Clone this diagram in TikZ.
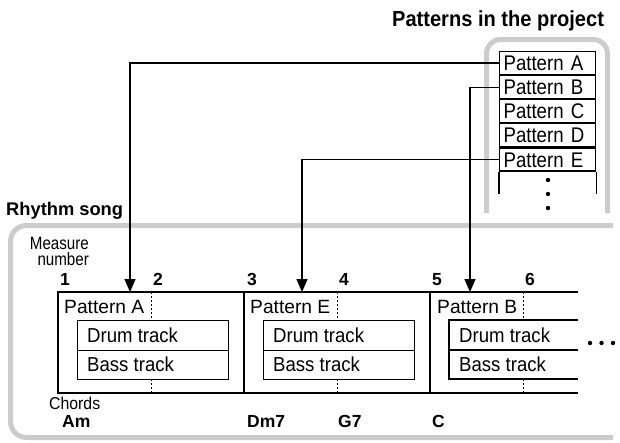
\documentclass[tikz,border=0pt]{standalone}
\usepackage{fontspec}
\setmainfont{Liberation Sans}
\newfontfamily\condA{Liberation Sans}[FakeStretch=0.88]
\newfontfamily\condB{Liberation Sans}[FakeStretch=0.92]
\newfontfamily\condC{Liberation Sans}[FakeStretch=0.85]
\usetikzlibrary{arrows.meta}
\definecolor{bargray}{RGB}{204,204,204}
\begin{document}
\begin{tikzpicture}[x=1pt,y=-1pt,
  lbl/.style={inner sep=0pt, anchor=base west},
  lble/.style={inner sep=0pt, anchor=base east},
  titlefont/.style={font=\condB\fontsize{21.8}{24}\selectfont\bfseries},
  smallfont/.style={font=\condC\fontsize{17.8}{20}\selectfont},
  numfont/.style={font=\fontsize{17.5}{20}\selectfont\bfseries},
  plabel/.style={lbl, font=\fontsize{19.2}{22}\selectfont},
  graybar/.style={draw=bargray, line width=5pt},
  rowbox/.style={draw, line width=1.1pt, minimum width=96pt, minimum height=23pt,
    inner xsep=4pt, inner ysep=0pt, text width=88pt, align=left,
    text height=15.2pt, text depth=0pt, anchor=north west,
    font=\condA\fontsize{21.2}{22}\selectfont},
  trackrow/.style={minimum height=#1, inner xsep=10pt, inner ysep=0pt,
    text height=14.5pt, text depth=0pt, anchor=north west,
    font=\condB\fontsize{20.2}{22}\selectfont},
  thin/.style={line width=1.1pt},
  dotline/.style={line width=1pt, dash pattern=on 2pt off 2pt},
  arr/.style={line width=1.2pt, -{Triangle[length=13pt,width=11pt]}}
]
\useasboundingbox (0,0) rectangle (620,442);

% ---- Patterns in the project ----
\node[lbl, titlefont] (ptitle) at (392,26) {Patterns in the project};
\draw[graybar, rounded corners=14pt] (486.5,213) -- (486.5,39.5) -- (607.5,39.5) -- (607.5,213);

\node[rowbox] (pA) at (499,51) {Pattern A};
\node[rowbox] (pB) at (pA.south west) {Pattern B};
\node[rowbox] (pC) at (pB.south west) {Pattern C};
\node[rowbox] (pD) at (pC.south west) {Pattern D};
\node[rowbox] (pE) at (pD.south west) {Pattern E};
\draw[thin] (pE.south west) -- ++(0,22);
\draw[thin] (pE.south east) -- ++(0,22);
\fill (548,180) circle (2.2pt) (548,194) circle (2.2pt) (548,208) circle (2.2pt);

% ---- Rhythm song ----
\node[lbl, font=\fontsize{18.3}{22}\selectfont\bfseries] (rtitle) at (6,215) {Rhythm song};
\draw[graybar, rounded corners=16pt] (613,225.5) -- (10.5,225.5) -- (10.5,437.5) -- (613,437.5);

\node[lble, smallfont] (meas) at (89,249) {Measure};
\node[lble, smallfont] (numb) at (89,265.5) {number};

\node[lbl, numfont] (n1) at (60,285) {1};
\node[lbl, numfont] (n2) at (153,285) {2};
\node[lbl, numfont] (n3) at (247,285) {3};
\node[lbl, numfont] (n4) at (339,285) {4};
\node[lbl, numfont] (n5) at (432,285) {5};
\node[lbl, numfont] (n6) at (525,285) {6};

% strip
\draw[thin] (578,292) -- (58,292) -- (58,393) -- (578,393);
\draw[thin] (244,292) -- (244,393);
\draw[thin] (430,292) -- (430,393);
\foreach \x in {151,337,523} {
  \draw[dotline] (\x,292) -- (\x,320);
  \draw[dotline] (\x,379) -- (\x,393);
}

\node[plabel] (lA) at (64,313) {Pattern A};
\node[plabel] (lE) at (250,313) {Pattern E};
\node[plabel] (lB) at (437,313) {Pattern B};

% track boxes 1 and 2
\foreach \x/\n in {77/1,263/2} {
  \node[trackrow=30pt, draw, thin, minimum width=151pt] (d\n) at (\x,320) {};
  \node[trackrow=29pt, draw, thin, minimum width=151pt] (b\n) at (\x,350) {};
  \node[trackrow=30pt] at (\x,320) {Drum track};
  \node[trackrow=29pt] at (\x,350) {Bass track};
}
% track box 3 (open at the right)
\draw[thin] (578,320) -- (449,320) -- (449,379) -- (578,379);
\draw[thin] (449,350) -- (578,350);
\node[trackrow=30pt] (d3) at (449,320) {Drum track};
\node[trackrow=29pt] (b3) at (449,350) {Bass track};

\fill (590,343) circle (2.2pt) (601.5,343) circle (2.2pt) (613,343) circle (2.2pt);

% chords
\node[lbl, font=\condB\fontsize{17.2}{18}\selectfont] (chords) at (49,409) {Chords};
\node[lbl, numfont] (cAm) at (62,427) {Am};
\node[lbl, numfont] (cDm) at (247,427) {Dm7};
\node[lbl, numfont] (cG) at (338,427) {G7};
\node[lbl, numfont] (cC) at (432,427) {C};

% connectors
\coordinate (tA) at (130,292);
\coordinate (tE) at (302,292);
\coordinate (tB) at (470,292);
\draw[arr] (pA.west) -| (tA);
\draw[arr] (pE.west) -| (tE);
\draw[arr] (pB.west) -| (tB);
\end{tikzpicture}
\end{document}
